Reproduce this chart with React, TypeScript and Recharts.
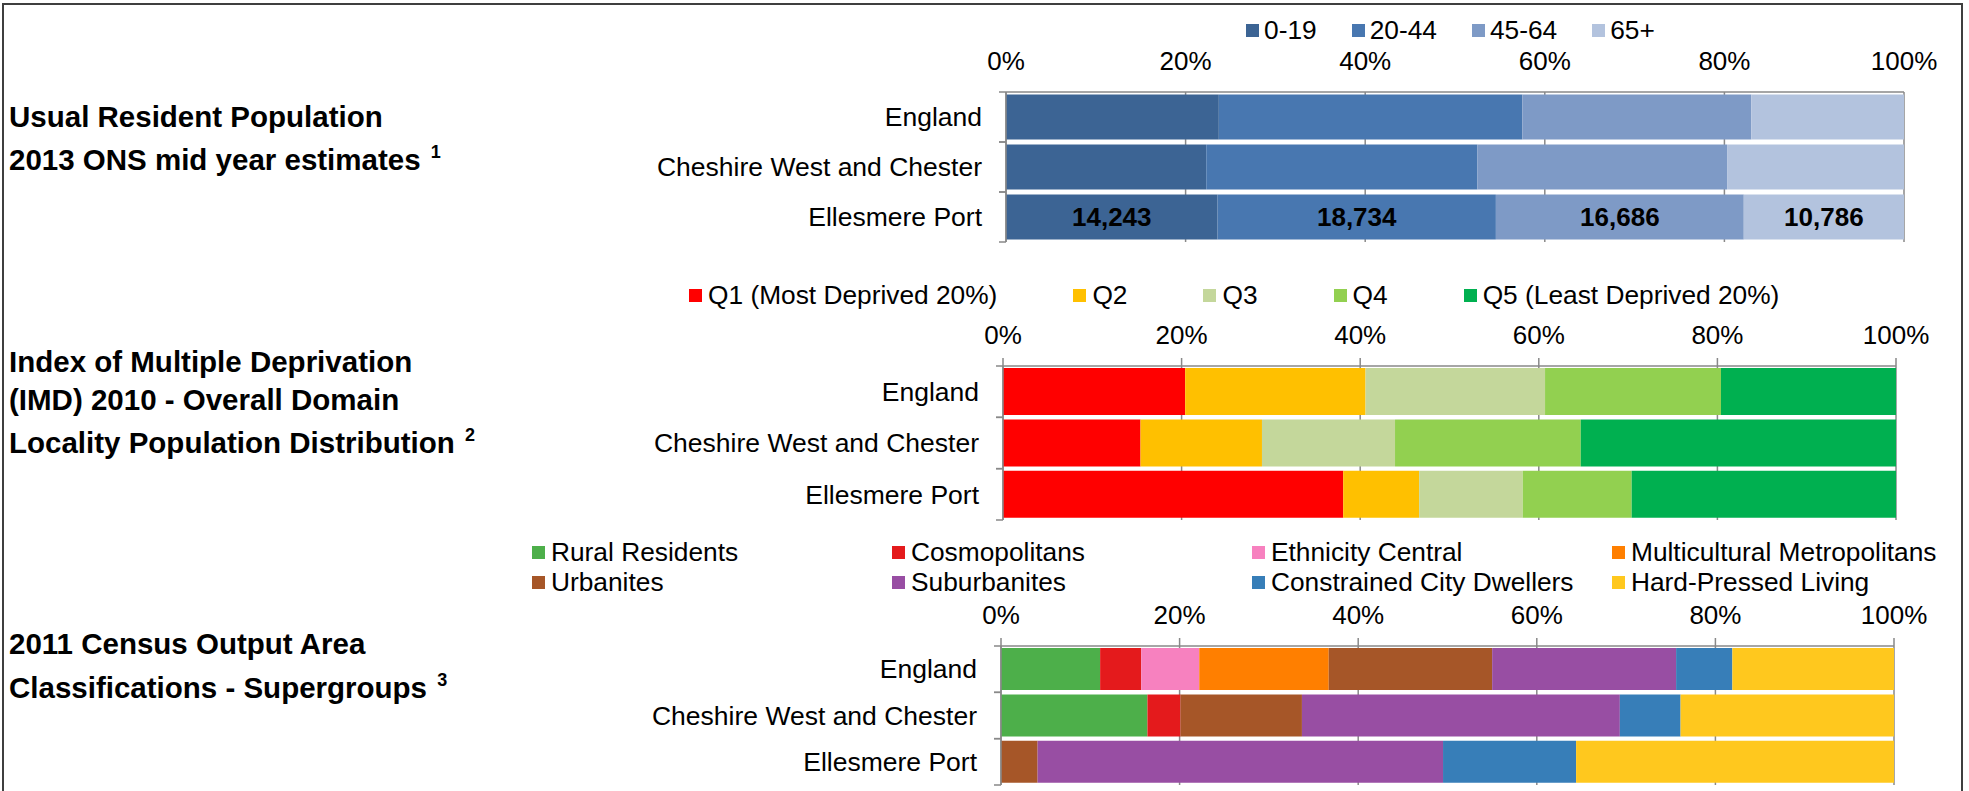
import React from 'react';
import { BarChart, Bar, XAxis, YAxis, CartesianGrid, Legend, LabelList } from 'recharts';

const FONT = '"Liberation Sans", Arial, Helvetica, sans-serif';
const AXIS = '#898989';
const W = 1969;

// ---------- data ----------
const regions = ['England', 'Cheshire West and Chester', 'Ellesmere Port'];

const ageGroups = ['0-19', '20-44', '45-64', '65+'];
const ageColors = ['#3C6494', '#4877B0', '#7E9AC6', '#B3C3DE'];
const ageEngland = [23.7, 33.8, 25.5, 17.0];
const ageCheshire = [22.3, 30.2, 27.8, 19.7];
const ageEllesmere = [14243, 18734, 16686, 10786];

const imdGroups = ['Q1 (Most Deprived 20%)', 'Q2', 'Q3', 'Q4', 'Q5 (Least Deprived 20%)'];
const imdColors = ['#FF0000', '#FFC000', '#C4D79B', '#92D050', '#00B050'];
const imdEngland = [20.4, 20.2, 20.1, 19.7, 19.6];
const imdCheshire = [15.4, 13.6, 14.9, 20.8, 35.3];
const imdEllesmere = [38.1, 8.5, 11.6, 12.2, 29.6];

const oacGroups = [
  'Rural Residents', 'Cosmopolitans', 'Ethnicity Central', 'Multicultural Metropolitans',
  'Urbanites', 'Suburbanites', 'Constrained City Dwellers', 'Hard-Pressed Living',
];
const oacColors = ['#4DAF4A', '#E41A1C', '#F781BF', '#FF7F00', '#A65628', '#984EA3', '#377EB8', '#FFC81E'];
const oacEngland = [11.1, 4.6, 6.5, 14.5, 18.3, 20.6, 6.3, 18.1];
const oacCheshire = [16.4, 3.7, 0, 0, 13.6, 35.6, 6.8, 23.9];
const oacEllesmere = [0, 0, 0, 0, 4.1, 45.4, 14.9, 35.6];

const pctTicks = [0, 0.2, 0.4, 0.6, 0.8, 1];

function buildRows(series: number[][], labelRowIndex: number | null) {
  return regions.map((name, i) => {
    const row: any = { name };
    series[i].forEach((v, k) => {
      row['s' + k] = v;
      if (labelRowIndex === i) row['l' + k] = v.toLocaleString('en-US');
    });
    return row;
  });
}

const ageData = buildRows([ageEngland, ageCheshire, ageEllesmere], 2);
const imdData = buildRows([imdEngland, imdCheshire, imdEllesmere], null);
const oacData = buildRows([oacEngland, oacCheshire, oacEllesmere], null);

// ---------- components ----------
const CatTick = ({ x, y, payload, band }: any) => (
  <g>
    <text x={x - 24} y={y} dy="0.35em" textAnchor="end" fontSize={26.5} fontFamily={FONT} fill="#000">
      {payload.value}
    </text>
    <line x1={x - 7} x2={x} y1={y - band / 2} y2={y - band / 2} stroke={AXIS} strokeWidth={1.5} />
    <line x1={x - 7} x2={x} y1={y + band / 2} y2={y + band / 2} stroke={AXIS} strokeWidth={1.5} />
  </g>
);

const PctTick = ({ x, y, payload }: any) => (
  <text x={x} y={y} dy="0.35em" textAnchor="middle" fontSize={26} fontFamily={FONT} fill="#000">
    {Math.round(payload.value * 100) + '%'}
  </text>
);

const RowLegend = ({ payload, gap, textGap }: any) => (
  <div style={{ display: 'flex', fontFamily: FONT, fontSize: 26.3, lineHeight: '30px', whiteSpace: 'nowrap', color: '#000' }}>
    {(payload || []).map((p: any) => (
      <div key={p.value} style={{ display: 'flex', alignItems: 'center', marginRight: gap }}>
        <span style={{ display: 'inline-block', width: 13, height: 13, background: p.color, marginRight: textGap }} />
        <span>{p.value}</span>
      </div>
    ))}
  </div>
);

const GridLegend = ({ payload }: any) => (
  <div style={{ display: 'grid', gridTemplateColumns: 'repeat(4, 360px)', fontFamily: FONT, fontSize: 26.3, lineHeight: '30px', whiteSpace: 'nowrap', color: '#000' }}>
    {(payload || []).map((p: any) => (
      <div key={p.value} style={{ display: 'flex', alignItems: 'center' }}>
        <span style={{ display: 'inline-block', width: 13, height: 13, background: p.color, marginRight: 6 }} />
        <span>{p.value}</span>
      </div>
    ))}
  </div>
);

type ChartProps = {
  top: number;
  height: number;
  margin: { top: number; right: number; bottom: number; left: number };
  data: any[];
  names: string[];
  colors: string[];
  gap: string;
  tickLen: number;
  legend: React.ReactNode;
  labels?: boolean;
};

const X_H = 60;
const Y_W = 300;

function StackChart({ top, height, margin, data, names, colors, gap, tickLen, legend, labels }: ChartProps) {
  const plotH = height - margin.top - margin.bottom - X_H;
  const band = plotH / data.length;
  return (
    <div style={{ position: 'absolute', left: 0, top }}>
      <BarChart
        width={W}
        height={height}
        data={data}
        layout="vertical"
        stackOffset="expand"
        margin={margin}
        barCategoryGap={gap}
      >
        <CartesianGrid horizontal={false} stroke={AXIS} strokeWidth={1.5} />
        <XAxis
          type="number"
          orientation="top"
          domain={[0, 1]}
          ticks={pctTicks}
          height={X_H}
          axisLine={{ stroke: AXIS, strokeWidth: 1.5 }}
          tickLine={tickLen > 0 ? { stroke: AXIS, strokeWidth: 1.5 } : false}
          tickSize={tickLen}
          tickMargin={31 - tickLen}
          tick={<PctTick />}
          interval={0}
        />
        <YAxis
          type="category"
          dataKey="name"
          width={Y_W}
          axisLine={{ stroke: AXIS, strokeWidth: 1.5 }}
          tickLine={false}
          tickSize={0}
          tickMargin={0}
          tick={(p: any) => <CatTick {...p} band={band} />}
          interval={0}
        />
        {legend}
        {names.map((n, k) => (
          <Bar key={n} dataKey={'s' + k} name={n} stackId="a" fill={colors[k]} isAnimationActive={false}>
            {labels ? (
              <LabelList dataKey={'l' + k} position="center" fill="#000" fontSize={26} fontWeight="bold" fontFamily={FONT} />
            ) : null}
          </Bar>
        ))}
      </BarChart>
    </div>
  );
}

const titleStyle: React.CSSProperties = {
  position: 'absolute',
  left: 9,
  fontFamily: FONT,
  fontWeight: 'bold',
  fontSize: 29.5,
  lineHeight: '34px',
  whiteSpace: 'nowrap',
  color: '#000',
};

const Sup = ({ n }: { n: string }) => (
  <span style={{ fontSize: 18, position: 'relative', top: -12, marginLeft: 2 }}>{n}</span>
);

const titleLines: { y: number; text: string; sup?: string }[] = [
  { y: 117, text: 'Usual Resident Population' },
  { y: 160, text: '2013 ONS mid year estimates ', sup: '1' },
  { y: 362, text: 'Index of Multiple Deprivation' },
  { y: 400, text: '(IMD) 2010 - Overall Domain' },
  { y: 443, text: 'Locality Population Distribution ', sup: '2' },
  { y: 644, text: '2011 Census Output Area' },
  { y: 688, text: 'Classifications - Supergroups ', sup: '3' },
];

export default function App() {
  return (
    <div style={{ position: 'absolute', left: 0, top: 0, width: W, height: 791, background: '#fff', overflow: 'hidden' }}>
      <div
        style={{
          position: 'absolute', left: 2, top: 3, width: 1961, height: 820,
          boxSizing: 'border-box', border: '2px solid #3f3f3f', borderBottom: 'none',
        }}
      />
      {titleLines.map((t) => (
        <div key={t.text} style={{ ...titleStyle, top: t.y - 17 }}>
          {t.text}
          {t.sup ? <Sup n={t.sup} /> : null}
        </div>
      ))}

      <StackChart
        top={0}
        height={260}
        margin={{ top: 32, right: W - 1904, bottom: 18, left: 1006 - Y_W }}
        data={ageData}
        names={ageGroups}
        colors={ageColors}
        gap="5%"
        tickLen={0}
        labels
        legend={
          <Legend
            layout="horizontal"
            verticalAlign="middle"
            align="center"
            itemSorter="dataKey"
            wrapperStyle={{ top: 15, left: 1246, width: 700 }}
            content={(p: any) => <RowLegend {...p} gap={35} textGap={5} />}
          />
        }
      />

      <StackChart
        top={250}
        height={275}
        margin={{ top: 56, right: W - 1896, bottom: 5, left: 1003 - Y_W }}
        data={imdData}
        names={imdGroups}
        colors={imdColors}
        gap="4%"
        tickLen={8}
        legend={
          <Legend
            layout="horizontal"
            verticalAlign="middle"
            align="center"
            itemSorter="dataKey"
            wrapperStyle={{ top: 30, left: 689, width: 1200 }}
            content={(p: any) => <RowLegend {...p} gap={76} textGap={6} />}
          />
        }
      />

      <StackChart
        top={520}
        height={271}
        margin={{ top: 66, right: W - 1894, bottom: 6, left: 1001 - Y_W }}
        data={oacData}
        names={oacGroups}
        colors={oacColors}
        gap="4.5%"
        tickLen={8}
        legend={
          <Legend
            layout="horizontal"
            verticalAlign="middle"
            align="center"
            itemSorter="dataKey"
            wrapperStyle={{ top: 17, left: 532, width: 1440 }}
            content={(p: any) => <GridLegend {...p} />}
          />
        }
      />
    </div>
  );
}
